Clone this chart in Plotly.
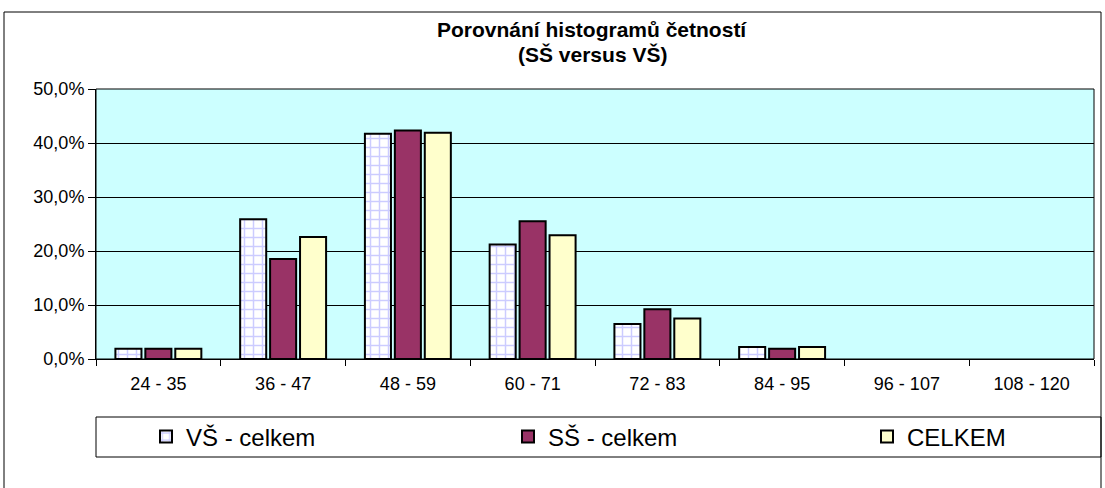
import plotly.graph_objects as go

categories = ["24 - 35", "36 - 47", "48 - 59", "60 - 71", "72 - 83", "84 - 95", "96 - 107", "108 - 120"]
vs_celkem = [0.019, 0.259, 0.417, 0.212, 0.065, 0.022, 0.0, 0.0]
ss_celkem = [0.019, 0.185, 0.423, 0.255, 0.092, 0.019, 0.0, 0.0]
celkem = [0.019, 0.226, 0.419, 0.229, 0.075, 0.022, 0.0, 0.0]
y_ticks = [0, 0.1, 0.2, 0.3, 0.4, 0.5]

W, H = 1105, 488
L, R, T, B = 96, 11, 89, 129
PW, PH = W - L - R, H - T - B

def px_x(x):
    return (x - L) / PW

def px_y(y):
    return (H - B - y) / PH

def lw(vals):
    return [2 if v > 0 else 0 for v in vals]

fig = go.Figure()
fig.add_trace(go.Bar(
    name="VŠ - celkem", x=categories, y=vs_celkem, legend="legend",
    marker=dict(color="white", line=dict(color="black", width=lw(vs_celkem)),
                pattern=dict(shape="+", fgcolor="#9999FF", bgcolor="white", size=9, solidity=0.3)),
))
fig.add_trace(go.Bar(
    name="SŠ - celkem", x=categories, y=ss_celkem, legend="legend2",
    marker=dict(color="#993366", line=dict(color="black", width=lw(ss_celkem))),
))
fig.add_trace(go.Bar(
    name="CELKEM", x=categories, y=celkem, legend="legend3",
    marker=dict(color="#FFFFCC", line=dict(color="black", width=lw(celkem))),
))

leg_common = dict(orientation="h", xanchor="left", y=px_y(437), yanchor="middle",
                  font=dict(size=24), bgcolor="rgba(0,0,0,0)", borderwidth=0)

fig.update_layout(
    width=W, height=H,
    margin=dict(l=L, r=R, t=T, b=B),
    paper_bgcolor="white",
    plot_bgcolor="#CCFFFF",
    barmode="group",
    bargap=0.28,
    bargroupgap=0.13,
    separators=",.",
    font=dict(family="Arial, Liberation Sans, sans-serif", color="black", size=18),
    showlegend=True,
    legend=dict(x=px_x(176 - 30), **leg_common),
    legend2=dict(x=px_x(538 - 30), **leg_common),
    legend3=dict(x=px_x(897 - 30), **leg_common),
    xaxis=dict(
        type="category", tickson="boundaries", ticks="outside", ticklen=6,
        tickcolor="black", showline=True, linecolor="black", linewidth=1,
        showgrid=False, tickfont=dict(size=18), ticklabelstandoff=8,
    ),
    yaxis=dict(
        range=[0, 0.5], tickvals=y_ticks, tickformat=".1%", ticks="outside", ticklen=7,
        tickcolor="black", showline=True, linecolor="black", linewidth=1,
        showgrid=True, gridcolor="black", gridwidth=1, zeroline=False,
        tickfont=dict(size=18),
    ),
    annotations=[
        dict(text="<b>Porovnání histogramů četností</b>", x=px_x(592), y=px_y(30), xref="paper", yref="paper",
             showarrow=False, font=dict(size=21), xanchor="center", yanchor="middle"),
        dict(text="<b>(SŠ versus VŠ)</b>", x=px_x(592), y=px_y(55), xref="paper", yref="paper",
             showarrow=False, font=dict(size=21), xanchor="center", yanchor="middle"),
    ],
    shapes=[
        dict(type="rect", xref="paper", yref="paper", x0=px_x(4), x1=px_x(1101), y0=px_y(500), y1=px_y(12),
             line=dict(color="black", width=1), fillcolor="rgba(0,0,0,0)", layer="above"),
        dict(type="rect", xref="paper", yref="paper", x0=0, x1=1, y0=0, y1=1,
             line=dict(color="black", width=1), fillcolor="rgba(0,0,0,0)", layer="below"),
        dict(type="rect", xref="paper", yref="paper", x0=px_x(96), x1=px_x(1101), y0=px_y(457), y1=px_y(417),
             line=dict(color="black", width=1), fillcolor="rgba(0,0,0,0)", layer="above"),
    ],
)

fig.write_html("out.html", config={"displayModeBar": False},
               post_script="document.body.style.margin='0';")
